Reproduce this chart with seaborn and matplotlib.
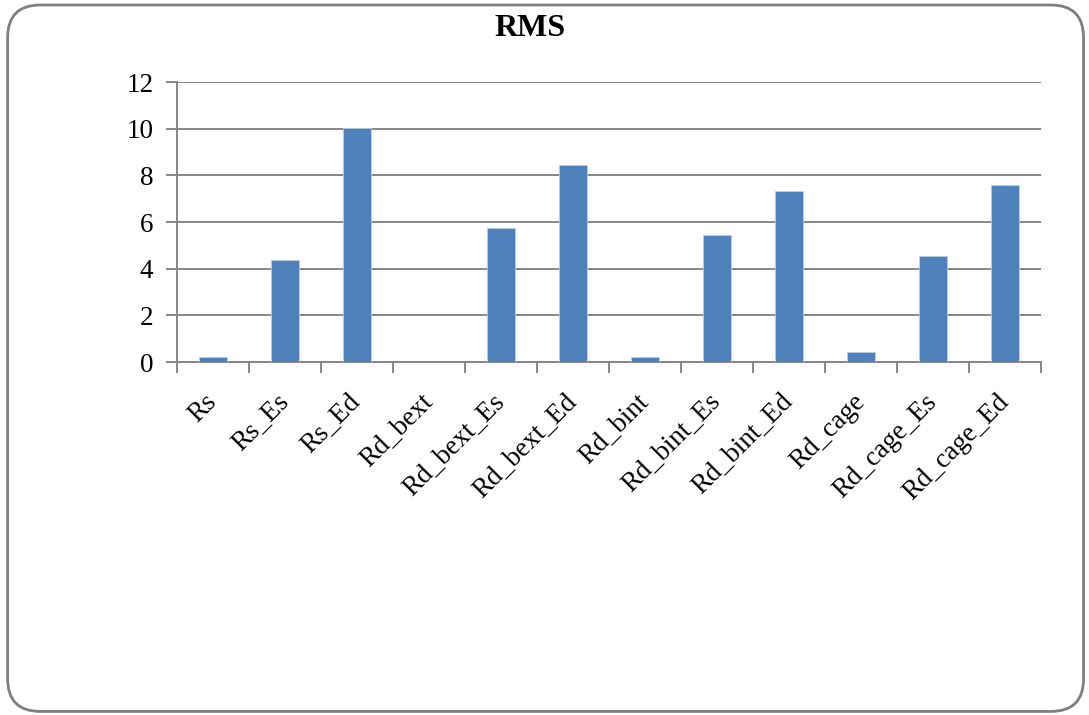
import pandas as pd
import matplotlib.pyplot as plt
import seaborn as sns
from matplotlib.patches import FancyBboxPatch

categories = ['Rs', 'Rs_Es', 'Rs_Ed', 'Rd_bext', 'Rd_bext_Es', 'Rd_bext_Ed',
              'Rd_bint', 'Rd_bint_Es', 'Rd_bint_Ed', 'Rd_cage', 'Rd_cage_Es', 'Rd_cage_Ed']
rms_values = [0.22, 4.36, 10.03, 0.0, 5.76, 8.43, 0.2, 5.43, 7.34, 0.44, 4.56, 7.6]
y_ticks = [0, 2, 4, 6, 8, 10, 12]

df = pd.DataFrame({'name': categories, 'rms': rms_values})

sns.set_style("white")
plt.rcParams['font.family'] = ['Liberation Serif', 'DejaVu Serif']
plt.rcParams['text.color'] = 'black'
plt.rcParams['xtick.labelcolor'] = 'black'
plt.rcParams['ytick.labelcolor'] = 'black'

fig = plt.figure(figsize=(10.89, 7.15), dpi=100)
ax = fig.add_axes([0.1625, 0.4937, 0.7935, 0.3916])

sns.barplot(x='name', y='rms', data=df, color='#4F81BD', saturation=1,
            width=0.4, edgecolor='#B9CDE5', linewidth=0.6, ax=ax, zorder=3)

ax.set_ylim(0, 12)
ax.set_xlim(-0.5, len(categories) - 0.5)
ax.set_yticks(y_ticks)
ax.set_xlabel('')
ax.set_ylabel('')
ax.yaxis.grid(True, color='#868686', linewidth=1.4)
ax.set_axisbelow(True)

for side in ['top', 'right']:
    ax.spines[side].set_visible(False)
ax.spines['left'].set_color('#868686')
ax.spines['bottom'].set_color('#868686')
ax.spines['left'].set_linewidth(1.4)
ax.spines['bottom'].set_linewidth(1.4)

# ticks between categories like the original
ax.set_xticks([i - 0.5 for i in range(len(categories) + 1)], minor=True)
ax.tick_params(axis='x', which='minor', length=8, width=1.4, color='#868686', direction='out', bottom=True)
ax.tick_params(axis='x', which='major', length=0, labelsize=19.5, pad=26, labelcolor='black')
ax.tick_params(axis='y', length=8, width=1.4, color='#868686', direction='out', labelsize=19.5,
               pad=9, left=True, labelcolor='black')

for lbl in ax.get_xticklabels():
    lbl.set_rotation(45)
    lbl.set_ha('right')
    lbl.set_va('center')
    lbl.set_rotation_mode('anchor')

fig.text(0.487, 0.960, 'RMS', ha='center', va='center', fontsize=23, fontweight='bold', color='black')

border = FancyBboxPatch((0.007, 0.005), 0.988, 0.988, boxstyle='round,pad=0,rounding_size=0.03',
                        transform=fig.transFigure, facecolor='none', edgecolor='#7F7F7F',
                        linewidth=2, mutation_aspect=1089 / 715)
fig.patches.append(border)

fig.savefig('out.png', dpi=100)
